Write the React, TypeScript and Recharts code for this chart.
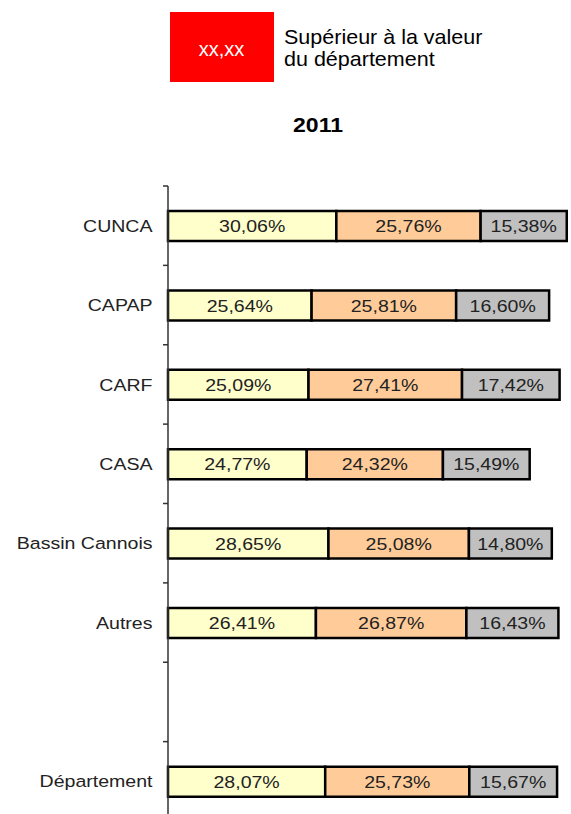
import React from "react";
import { BarChart, Bar, XAxis, YAxis, LabelList } from "recharts";

const categories = ["CUNCA", "CAPAP", "CARF", "CASA", "Bassin Cannois", "Autres", " ", "Département"];
const part1 = [30.06, 25.64, 25.09, 24.77, 28.65, 26.41, null, 28.07];
const part2 = [25.76, 25.81, 27.41, 24.32, 25.08, 26.87, null, 25.73];
const part3 = [15.38, 16.6, 17.42, 15.49, 14.8, 16.43, null, 15.67];
const title = "2011";
const legendSample = "xx,xx";
const legendLines = ["Supérieur à la valeur", "du département"];

const data = categories.map((c, i) => ({ name: c, a: part1[i], b: part2[i], c: part3[i] }));

const CHART_W = 571;
const CHART_H = 822;
const M_TOP = 186;
const M_BOTTOM = 1;
const AXIS_W = 168;
const PLOT_H = CHART_H - M_TOP - M_BOTTOM;
const SLOT = PLOT_H / categories.length;
const SX = 1.15;
const FONT = "'Liberation Sans', Arial, sans-serif";

const fmt = (v: any) => (v == null ? "" : Number(v).toFixed(2).replace(".", ",") + "%");

const Tick = (props: any) => {
  const { y, payload } = props;
  return (
    <g>
      <line x1={AXIS_W - 5} x2={AXIS_W} y1={y - SLOT / 2} y2={y - SLOT / 2} stroke="#333" strokeWidth={1.5} />
      <text
        transform={`translate(${AXIS_W - 15.5},${y}) scale(${SX},1)`}
        textAnchor="end"
        dy="0.36em"
        fontSize={17}
        fontFamily={FONT}
        fill="#222"
      >
        {payload.value}
      </text>
    </g>
  );
};

const SegLabel = (props: any) => {
  const { x, y, width, height, value } = props;
  if (value == null) return null;
  const cx = Number(x) + Number(width) / 2;
  const cy = Number(y) + Number(height) / 2;
  return (
    <text
      transform={`translate(${cx},${cy}) scale(${SX},1)`}
      textAnchor="middle"
      dy="0.36em"
      fontSize={17}
      fontFamily={FONT}
      fill="#222"
    >
      {fmt(value)}
    </text>
  );
};

export default function App() {
  return (
    <div style={{ position: "fixed", left: 0, top: 0, width: 571, height: 814, overflow: "hidden", background: "#fff" }}>
      <svg width={571} height={180} style={{ position: "absolute", left: 0, top: 0 }}>
        <rect x={170} y={12} width={104} height={70} fill="#FF0000" />
        <text x={221.5} y={56} textAnchor="middle" fontSize={20} fontFamily={FONT} fill="#fff">
          {legendSample}
        </text>
        <text transform="translate(284,43.5) scale(1.05,1)" fontSize={20.5} fontFamily={FONT} fill="#000">
          {legendLines[0]}
        </text>
        <text transform="translate(284,66) scale(1.05,1)" fontSize={20.5} fontFamily={FONT} fill="#000">
          {legendLines[1]}
        </text>
        <text
          transform={`translate(318,132) scale(1.15,1)`}
          textAnchor="middle"
          fontSize={20}
          fontWeight="bold"
          fontFamily={FONT}
          fill="#000"
        >
          {title}
        </text>
      </svg>
      <div style={{ position: "absolute", left: 0, top: 0 }}>
        <BarChart
          width={CHART_W}
          height={CHART_H}
          data={data}
          layout="vertical"
          margin={{ top: M_TOP, right: 2, bottom: M_BOTTOM, left: 0 }}
          barCategoryGap={0}
        >
          <XAxis type="number" domain={[0, 71.6]} hide />
          <YAxis
            type="category"
            dataKey="name"
            width={AXIS_W}
            axisLine={{ stroke: "#333", strokeWidth: 1.5 }}
            tickLine={false}
            tick={<Tick />}
            interval={0}
          />
          <Bar dataKey="a" stackId="s" fill="#FFFFCC" stroke="#000" strokeWidth={2.5} barSize={30} isAnimationActive={false}>
            <LabelList dataKey="a" content={<SegLabel />} />
          </Bar>
          <Bar dataKey="b" stackId="s" fill="#FFCC99" stroke="#000" strokeWidth={2.5} barSize={30} isAnimationActive={false}>
            <LabelList dataKey="b" content={<SegLabel />} />
          </Bar>
          <Bar dataKey="c" stackId="s" fill="#C0C0C0" stroke="#000" strokeWidth={2.5} barSize={30} isAnimationActive={false}>
            <LabelList dataKey="c" content={<SegLabel />} />
          </Bar>
        </BarChart>
      </div>
    </div>
  );
}
